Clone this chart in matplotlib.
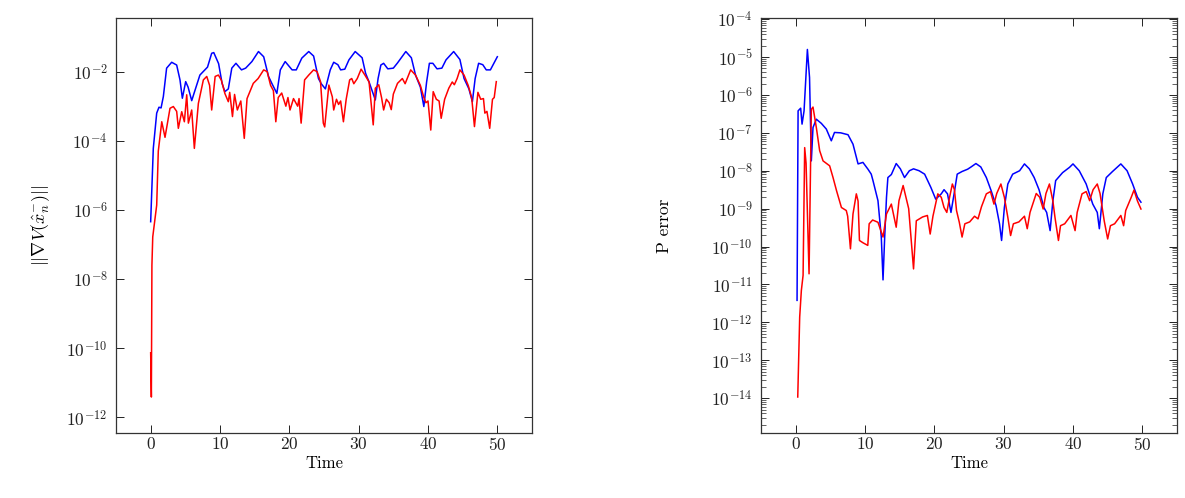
import numpy as np
import matplotlib
matplotlib.use("Agg")
import matplotlib.pyplot as plt
from matplotlib.ticker import FixedLocator, LogFormatterSciNotation, NullLocator, LogLocator

plt.rcParams['font.family'] = 'serif'
plt.rcParams['font.serif'] = ['cmr10', 'DejaVu Serif']
plt.rcParams['mathtext.fontset'] = 'cm'
plt.rcParams['axes.formatter.use_mathtext'] = True

# ---- Left panel: gradient norm (log10 values) ----
grad_blue_t = [0.0, 0.38, 0.87, 1.2, 1.5, 1.83, 2.3, 3.03, 3.75, 4.23, 4.57, 5.05, 5.4, 5.92, 6.3,
               7.1, 8.2, 8.8, 9.1, 9.8, 10.3, 10.7, 11.2, 11.7, 12.3, 13.1, 13.7, 14.6, 15.55, 16.3,
               17.0, 17.5, 18.2, 18.7, 19.4, 20.4, 21.0, 21.8, 22.8, 23.5, 24.2, 24.6, 25.2, 25.9,
               26.4, 27.0, 27.4, 28.0, 28.6, 29.5, 30.5, 31.0, 31.5, 31.9, 32.4, 32.8, 33.2, 33.6,
               34.2, 35.0, 35.6, 36.8, 37.6, 38.2, 38.9, 39.4, 39.8, 40.2, 40.7, 41.3, 42.0, 42.6,
               43.7, 44.6, 45.2, 45.9, 46.4, 46.8, 47.3, 47.9, 48.4, 49.0, 50.0]
grad_blue_log10 = [-6.34, -4.22, -3.2, -3.03, -3.05, -2.72, -1.90, -1.73, -1.81, -2.24, -2.77, -2.29, -2.45, -2.84, -2.6,
                   -2.1, -1.87, -1.47, -1.45, -1.77, -2.34, -2.58, -2.5, -1.9, -1.76, -1.95, -1.9, -1.71, -1.42, -1.57,
                   -2.14, -2.35, -2.63, -1.95, -1.71, -1.95, -1.95, -1.61, -1.42, -1.55, -2.2, -2.35, -2.5, -1.95,
                   -1.73, -1.8, -1.95, -1.93, -1.66, -1.42, -1.6, -2.05, -2.3, -2.53, -2.82, -2.2, -1.81, -1.76,
                   -1.92, -1.9, -1.75, -1.42, -1.6, -2.1, -2.45, -3.01, -2.3, -1.76, -1.76, -1.92, -1.9, -1.66,
                   -1.42, -1.65, -2.2, -2.5, -2.87, -2.2, -1.76, -1.8, -1.95, -1.95, -1.57]

grad_red_t = [0.0, 0.1, 0.18, 0.3, 0.87, 1.1, 1.6, 2.07, 2.79, 3.27, 3.75, 3.99, 4.48, 4.86, 5.2, 5.44,
              5.92, 6.3, 6.88, 7.6, 8.09, 8.5, 8.8, 9.3, 9.77, 10.2, 10.7, 11.2, 11.4, 11.8, 12.1, 12.5,
              13.0, 13.5, 13.9, 14.8, 15.5, 16.3, 16.8, 17.3, 17.7, 18.05, 18.4, 18.9, 19.5, 19.8, 20.1,
              20.6, 21.2, 21.4, 21.7, 22.2, 22.8, 23.5, 24.0, 24.5, 24.9, 25.1, 25.7, 26.2, 26.4, 26.8,
              27.1, 27.4, 27.8, 28.2, 28.7, 29.0, 29.3, 29.8, 30.35, 30.9, 31.5, 32.1, 32.4, 32.9, 33.3,
              33.6, 34.0, 34.4, 34.7, 35.0, 35.6, 36.3, 36.7, 37.0, 37.5, 38.2, 38.9, 39.4, 39.7, 40.0,
              40.4, 40.75, 41.2, 41.6, 41.9, 42.4, 43.0, 43.5, 43.8, 44.2, 44.6, 45.2, 45.8, 46.3, 46.7,
              47.2, 47.6, 48.0, 48.2, 48.5, 48.9, 49.3, 49.55, 49.85]
grad_red_log10 = [-10.13, -11.41, -7.6, -6.78, -5.86, -4.3, -3.45, -3.9, -3.06, -3.01, -3.15, -3.64, -3.16, -3.45, -2.67, -3.49,
                  -3.11, -4.22, -2.92, -2.24, -2.14, -2.4, -3.11, -2.14, -2.1, -2.25, -2.63, -2.87, -2.6, -3.3, -2.66, -3.11,
                  -2.85, -3.93, -2.78, -2.34, -2.2, -1.95, -2.0, -2.4, -2.55, -3.45, -2.75, -2.62, -3.0, -2.75, -3.11,
                  -2.78, -3.0, -2.78, -3.49, -2.24, -2.1, -1.95, -2.0, -2.29, -3.49, -3.6, -2.39, -2.73, -3.11, -2.8,
                  -2.95, -2.85, -3.45, -2.8, -2.24, -2.2, -2.35, -2.2, -1.93, -2.1, -2.3, -3.54, -2.48, -2.38, -2.75,
                  -3.11, -2.8, -2.9, -3.1, -2.65, -2.34, -2.2, -2.35, -2.2, -1.95, -2.1, -2.4, -2.75, -2.9, -2.85,
                  -3.69, -2.58, -2.8, -2.85, -3.35, -2.8, -2.48, -2.3, -2.38, -2.2, -1.95, -2.1, -2.4, -2.75, -3.59,
                  -2.6, -2.8, -2.78, -3.2, -3.15, -3.64, -2.8, -2.75, -2.29]

# ---- Right panel: P error (log10 values) ----
perr_blue_t = [0.2, 0.35, 0.72, 0.92, 1.21, 1.69, 2.0, 2.26, 2.5, 2.98, 3.7, 4.42, 5.14, 5.6, 6.5, 7.55,
               8.27, 9.0, 9.7, 10.43, 10.9, 11.15, 11.87, 12.35, 12.6, 12.84, 13.1, 13.3, 13.8, 14.5,
               15.1, 15.7, 16.4, 17.0, 17.8, 18.6, 19.5, 20.2, 21.0, 21.4, 21.9, 22.4, 22.85, 23.3, 24.0,
               24.8, 25.3, 26.0, 26.7, 27.5, 28.2, 28.9, 29.4, 29.7, 30.1, 30.6, 31.3, 32.3, 33.0, 33.7,
               34.4, 35.1, 35.8, 36.2, 36.7, 37.1, 37.5, 38.5, 39.5, 40.0, 40.9, 41.9, 42.85, 43.5, 43.8,
               44.3, 44.8, 45.7, 46.9, 47.8, 48.6, 49.3, 49.8]
perr_blue_log10 = [-11.42, -6.42, -6.35, -6.77, -6.42, -4.8, -5.54, -7.74, -6.86, -6.64, -6.75, -6.9, -7.21, -6.99, -7.0, -7.05,
                   -7.3, -7.82, -7.78, -7.96, -8.09, -8.26, -8.79, -9.75, -10.88, -9.75, -8.70, -8.18, -8.1, -7.81,
                   -7.95, -8.18, -8.0, -7.95, -8.0, -8.09, -8.44, -8.75, -8.61, -8.5, -8.61, -9.1, -8.61, -8.09, -8.02,
                   -7.96, -7.9, -7.81, -7.9, -8.18, -8.53, -8.92, -9.40, -9.84, -8.97, -8.35, -8.09, -8.0, -7.82, -7.95,
                   -8.18, -8.5, -8.97, -9.1, -9.58, -8.79, -8.26, -8.05, -7.91, -7.82, -8.0, -8.35, -8.88, -9.1, -9.53,
                   -8.61, -8.18, -8.02, -7.82, -8.0, -8.35, -8.7, -8.83]

perr_red_t = [0.3, 0.58, 0.82, 1.07, 1.3, 1.5, 1.93, 2.26, 2.5, 2.98, 3.46, 3.95, 4.9, 5.39, 5.9, 6.6,
              7.3, 7.5, 7.9, 8.27, 8.75, 9.0, 9.2, 9.7, 10.4, 10.6, 11.1, 11.87, 12.6, 13.1, 13.8, 14.5,
              14.9, 15.5, 16.3, 17.0, 17.4, 18.3, 19.0, 19.4, 19.8, 20.5, 21.0, 21.4, 21.8, 22.2, 22.6,
              22.9, 23.2, 23.6, 24.0, 24.4, 25.1, 25.8, 26.3, 26.8, 27.5, 28.1, 28.6, 29.0, 29.6, 30.1,
              30.6, 31.0, 31.4, 32.2, 33.0, 33.4, 33.8, 34.7, 35.2, 35.7, 36.1, 36.6, 37.1, 37.4, 37.9,
              38.2, 38.8, 39.7, 40.3, 40.6, 41.3, 41.9, 42.4, 42.9, 43.5, 43.9, 44.5, 45.0, 45.4, 46.0,
              46.9, 47.3, 47.6, 48.4, 48.8, 49.3, 49.8]
perr_red_log10 = [-13.97, -11.86, -11.16, -10.76, -7.39, -7.8, -10.72, -6.38, -6.32, -6.86, -7.47, -7.74, -7.87, -8.18, -8.53, -8.97,
                  -9.05, -9.2, -10.06, -9.14, -8.61, -8.8, -9.84, -9.9, -9.97, -9.40, -9.3, -9.36, -9.75, -9.14, -8.88, -9.49,
                  -8.79, -8.39, -9.0, -10.59, -9.32, -9.22, -9.18, -9.67, -9.2, -8.61, -8.7, -8.97, -9.1, -8.7, -8.35,
                  -8.5, -9.05, -9.36, -9.75, -9.4, -9.35, -9.2, -9.27, -8.95, -8.61, -8.55, -8.88, -8.6, -8.35, -8.7,
                  -9.23, -9.71, -9.4, -9.35, -9.2, -9.53, -9.1, -8.60, -8.7, -9.01, -8.6, -8.35, -8.8, -9.23, -9.84,
                  -9.45, -9.4, -9.18, -9.58, -9.1, -8.61, -8.55, -8.79, -8.5, -8.35, -8.6, -9.32, -9.80, -9.45, -9.4,
                  -9.18, -9.45, -9.05, -8.7, -8.51, -8.8, -9.01]

x_ticks = [0, 10, 20, 30, 40, 50]
left_yticks = [1e-12, 1e-10, 1e-8, 1e-6, 1e-4, 1e-2]
right_yticks = [1e-14, 1e-13, 1e-12, 1e-11, 1e-10, 1e-9, 1e-8, 1e-7, 1e-6, 1e-5, 1e-4]

BLUE = '#0000ff'
RED = '#ff0000'

fig = plt.figure(figsize=(11.85, 4.98), dpi=100)
ax1 = fig.add_axes([116/1185, 1-433/498, 416/1185, 415/498])
ax2 = fig.add_axes([761/1185, 1-433/498, 416/1185, 415/498])

ax1.plot(grad_blue_t, 10**np.array(grad_blue_log10), color=BLUE, lw=1.1)
ax1.plot(grad_red_t, 10**np.array(grad_red_log10), color=RED, lw=1.1)
ax2.plot(perr_blue_t, 10**np.array(perr_blue_log10), color=BLUE, lw=1.1)
ax2.plot(perr_red_t, 10**np.array(perr_red_log10), color=RED, lw=1.1)

for ax in (ax1, ax2):
    ax.set_yscale('log')
    ax.set_xlim(-5, 55)
    ax.set_xticks(x_ticks)
    ax.set_xlabel('Time', fontsize=12, labelpad=2)
    ax.tick_params(which='both', direction='in', top=True, right=True, labelsize=12.5, colors='#222222')
    ax.tick_params(which='major', length=6, width=0.7, pad=6)
    ax.tick_params(axis='x', which='major', pad=2)
    ax.tick_params(which='minor', length=3.5, width=0.5)
    for s in ax.spines.values():
        s.set_linewidth(0.9)
        s.set_color('#333333')

ax1.set_ylim(10**-12.45, 10**-0.45)
ax1.yaxis.set_major_locator(FixedLocator(left_yticks))
ax1.yaxis.set_major_formatter(LogFormatterSciNotation())
ax1.yaxis.set_minor_locator(NullLocator())
ax1.set_ylabel(r'$||\nabla V(\hat{x}_n^{-})||$', fontsize=13, labelpad=10)

ax2.set_ylim(10**-14.92, 10**-3.97)
ax2.yaxis.set_major_locator(FixedLocator(right_yticks))
ax2.yaxis.set_major_formatter(LogFormatterSciNotation())
ax2.yaxis.set_minor_locator(LogLocator(base=10, subs=np.arange(2, 10), numticks=100))
ax2.set_ylabel('P error', fontsize=12.5, labelpad=28)

fig.savefig('out.png', dpi=100)
